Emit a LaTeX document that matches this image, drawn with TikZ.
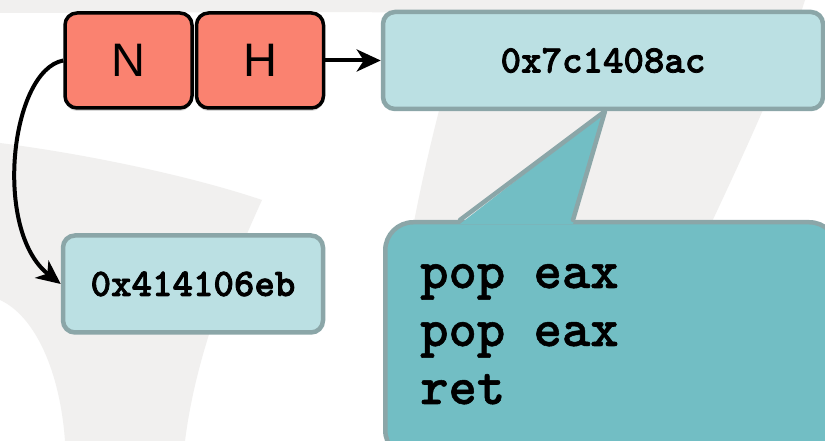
\documentclass[tikz,border=0pt]{standalone}
\usepackage[dvipsnames]{xcolor}
\usepackage{fontspec}
\usepackage{tikz}
\usetikzlibrary{calc,positioning,arrows.meta,shadows}
\newfontfamily\regfont{Liberation Sans}
\newfontfamily\addrfont{lmmonolt10-bold.otf}[FakeBold=2]
\newfontfamily\codefont{lmmonolt10-bold.otf}[FakeBold=1]
\definecolor{salmonred}{HTML}{FA8270}
\definecolor{paleblue}{HTML}{BBE0E3}
\definecolor{gadgetblue}{HTML}{72BEC4}
\definecolor{slateedge}{HTML}{8BA6A8}
\definecolor{swoosh}{HTML}{F1F0EF}
\tikzset{reg/.style={draw=black,line width=3.5pt,fill=salmonred,rounded corners=12pt,minimum width=127pt,minimum
height=95pt,inner sep=0pt,font=\regfont\fontsize{47}{47}\selectfont,drop shadow={shadow xshift=0pt,shadow
yshift=-3pt,opacity=0.3}},addr/.style={draw=slateedge,line width=4.5pt,fill=paleblue,rounded corners=12pt,minimum
height=97pt,inner sep=0pt,text=black,font=\addrfont\fontsize{39}{39}\selectfont}}

\begin{document}
\begin{tikzpicture}[x=1pt,y=1pt, link/.style = {line width=4pt,-{Stealth[length=24pt,width=22pt,inset=7pt]}}]
		\useasboundingbox (0,0) rectangle (825,441);
		\fill[white] (0,0) rectangle (825,441);

		% faint background
		\fill[swoosh] (0,441) -- (470,441) -- (470,428) .. controls (300,430) and (100,428) .. (0,428) -- cycle;
		\fill[swoosh] (0,298) .. controls (100,285) and (200,262) .. (262,241) .. controls (225,160) and (195,80) .. (185,0) -- (65,0) .. controls (60,70) and (35,125) .. (0,141) -- cycle;
		\fill[swoosh] (470,441) -- (805,441) .. controls (770,330) and (700,200) .. (610,0) -- (385,0) .. controls (400,200) and (440,340) .. (470,441) -- cycle;

		\node[reg] (N) at (128.5,380.5) {N};
		\node[reg,right=1pt of N] (H) {H};
		\node[addr,minimum width=440pt] (stack) at (603,380.5) {0x7c1408ac};
		\node[addr,minimum width=260pt] (ret) at (193,157) {0x414106eb};

		\node[draw=slateedge,line width=4.5pt,fill=gadgetblue,rounded corners=28pt,minimum width=452pt,minimum height=236pt,anchor=north west,inner sep=0pt] (gadget) at (383,221) {};
		\coordinate (tip) at ($(stack.south)+(2,0)$);
		\fill[gadgetblue] ($(gadget.north west)+(77,-4)$) -- (tip) -- ($(gadget.north west)+(190,-4)$) -- cycle;
		\draw[slateedge,line width=4.5pt,line join=round,line cap=round] ($(gadget.north west)+(77,0)$) -- (tip) -- ($(gadget.north west)+(190,0)$);
		\node[anchor=base west,align=left,inner sep=0pt,font=\codefont\fontsize{54}{58}\selectfont] (code) at (420,37) {pop eax\\pop eax\\ret};

		\draw[link] (H) -- (stack);
		\draw[link] (N.west) .. controls +(-53,-10) and +(-68,53) .. (ret.west);
	\end{tikzpicture}
\end{document}
